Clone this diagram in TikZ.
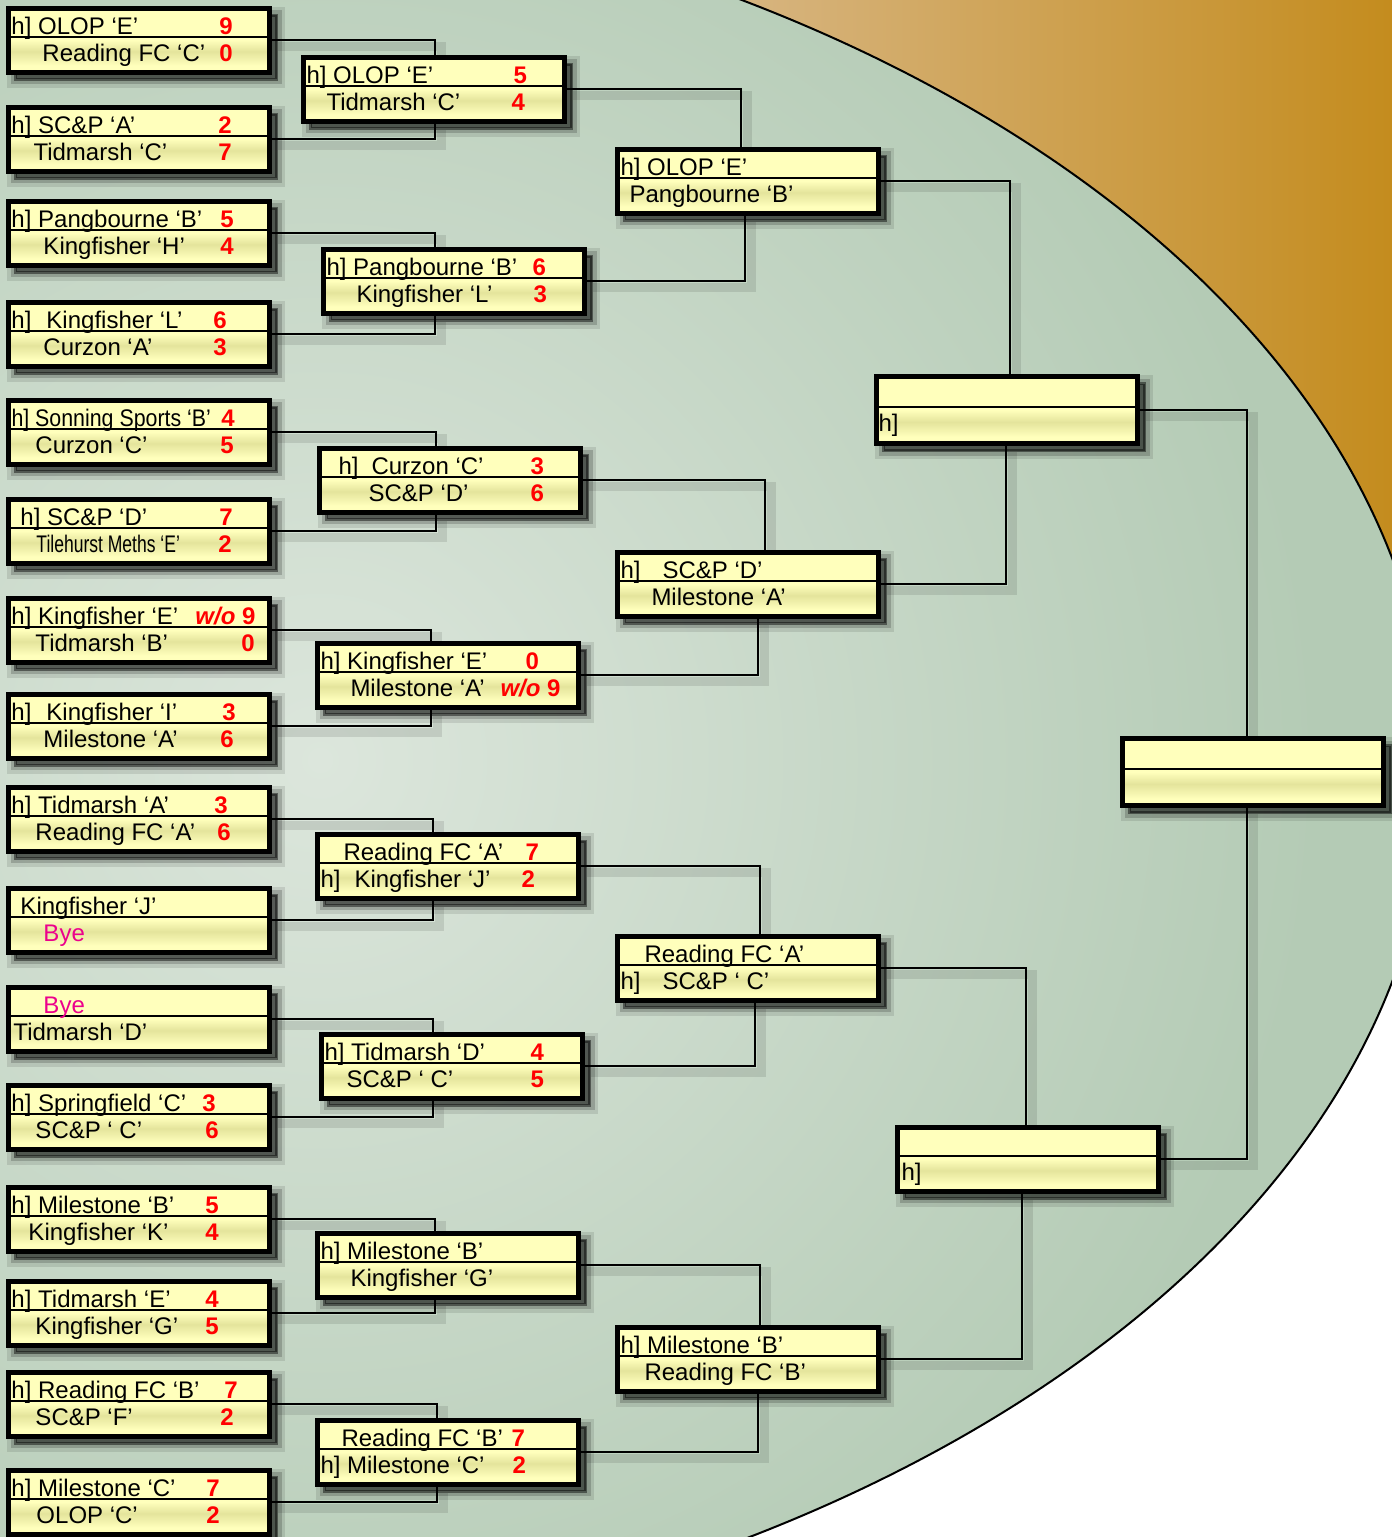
\documentclass[tikz,border=0pt]{standalone}
\usepackage{fontspec}
\setmainfont{Liberation Sans}

\definecolor{boxlite}{HTML}{FFFFBC}
\definecolor{boxdark}{HTML}{E4E49C}
\definecolor{ellouter}{HTML}{B4CBB5}
\definecolor{ellinner}{HTML}{DCE6DC}
\definecolor{tanleft}{HTML}{D8B786}
\definecolor{orangeright}{HTML}{C48C1E}

\pgfdeclareverticalshading{boxfill}{100bp}{color(0bp)=(boxlite); color(25bp)=(boxlite); color(30bp)=(boxlite); color(41bp)=(boxdark); color(50bp)=(boxlite); color(100bp)=(boxlite)}

\pgfdeclarelayer{bglayer}
\pgfdeclarelayer{linklayer}
\pgfsetlayers{bglayer,linklayer,main}

% one line of a match: indent, team, score position, score
\newcommand{\teamline}[4]{\makebox[261pt][l]{\rule[-5pt]{0pt}{25pt}\rlap{\hspace*{#1pt}#2}\hspace*{#3pt}\textcolor{red}{\bfseries #4}}}
\newcommand{\bye}{\textcolor{magenta}{Bye}}

\begin{document}
\begin{tikzpicture}[x=1pt, y=-1pt,
    matchbox/.style = {draw, line width=5pt, shading=boxfill,
        minimum width=261pt, minimum height=64pt, inner sep=0pt,
        align=left, font=\fontsize{24}{27}\selectfont,
        preaction={draw=black, opacity=0.10, line width=17pt,
            transform canvas={shift={(7pt,-7pt)}}},
        preaction={draw=black, opacity=0.18, line width=10pt,
            transform canvas={shift={(7pt,-7pt)}}},
        preaction={fill=black, draw=black, opacity=0.45, line width=3pt,
            transform canvas={shift={(7pt,-7pt)}}},
        path picture={\draw[line width=2pt]
            ([yshift=3pt]path picture bounding box.west) --
            ([yshift=3pt]path picture bounding box.east);}},
    bigbox/.style = {matchbox, minimum height=67pt},
    link/.style = {line width=2.5pt,
        preaction={draw=black, opacity=0.10, line width=9pt,
            transform canvas={shift={(6pt,-6pt)}}}}]
    \useasboundingbox (0,0) rectangle (1392,1537);

    % Background
    \begin{pgfonlayer}{bglayer}
        \shade[left color=tanleft, right color=orangeright] (700,0) rectangle (1392,800);
        \begin{scope}
            \clip (0,770) ellipse [x radius=1432, y radius=900];
            \fill[ellouter] (0,0) rectangle (1392,1537);
            \shade[inner color=ellinner, outer color=ellouter] (320,760) circle (1000);
        \end{scope}
        \draw[line width=2pt] (0,770) ellipse [x radius=1432, y radius=900];
    \end{pgfonlayer}

    % Round 1

    \node[matchbox] (r1a) at (139,40)   {\teamline{3}{h] OLOP ‘E’}{211}{9}\\\teamline{34}{Reading FC ‘C’}{211}{0}};
    \node[matchbox] (r1b) at (139,139)  {\teamline{3}{h] SC\&P ‘A’}{210}{2}\\\teamline{25}{Tidmarsh ‘C’}{210}{7}};
    \node[matchbox] (r1c) at (139,233)  {\teamline{3}{h] Pangbourne ‘B’}{212}{5}\\\teamline{35}{Kingfisher ‘H’}{212}{4}};
    \node[matchbox] (r1d) at (139,334)  {\teamline{3}{h]\hspace*{15pt}Kingfisher ‘L’}{205}{6}\\\teamline{35}{Curzon ‘A’}{205}{3}};
    \node[matchbox] (r1e) at (139,432)  {\teamline{3}{\scalebox{0.89}[1]{h] Sonning Sports ‘B’}}{213}{4}\\\teamline{27}{Curzon ‘C’}{212}{5}};
    \node[matchbox] (r1f) at (139,531)  {\teamline{12}{h] SC\&P ‘D’}{211}{7}\\\teamline{28}{\scalebox{0.73}[1]{Tilehurst Meths ‘E’}}{210}{2}};
    \node[matchbox] (r1g) at (139,630)  {\teamline{3}{h] Kingfisher ‘E’}{187}{\textit{w/o} 9}\\\teamline{27}{Tidmarsh ‘B’}{233}{0}};
    \node[matchbox] (r1h) at (139,726)  {\teamline{3}{h]\hspace*{15pt}Kingfisher ‘I’}{214}{3}\\\teamline{35}{Milestone ‘A’}{212}{6}};
    \node[matchbox] (r1i) at (139,819)  {\teamline{3}{h] Tidmarsh ‘A’}{206}{3}\\\teamline{27}{Reading FC ‘A’}{209}{6}};
    \node[matchbox] (r1j) at (139,920)  {\teamline{12}{Kingfisher ‘J’}{0}{}\\\teamline{35}{\bye}{0}{}};
    \node[matchbox] (r1k) at (139,1019) {\teamline{35}{\bye}{0}{}\\\teamline{5}{Tidmarsh ‘D’}{0}{}};
    \node[matchbox] (r1l) at (139,1117) {\teamline{3}{h] Springfield ‘C’}{194}{3}\\\teamline{27}{SC\&P ‘ C’}{197}{6}};
    \node[matchbox] (r1m) at (139,1219) {\teamline{3}{h] Milestone ‘B’}{197}{5}\\\teamline{20}{Kingfisher ‘K’}{197}{4}};
    \node[matchbox] (r1n) at (139,1313) {\teamline{3}{h] Tidmarsh ‘E’}{197}{4}\\\teamline{27}{Kingfisher ‘G’}{197}{5}};
    \node[matchbox] (r1o) at (139,1404) {\teamline{3}{h] Reading FC ‘B’}{216}{7}\\\teamline{27}{SC\&P ‘F’}{212}{2}};
    \node[matchbox] (r1p) at (139,1502) {\teamline{3}{h] Milestone ‘C’}{198}{7}\\\teamline{28}{OLOP ‘C’}{198}{2}};

    % Round 2

    \node[matchbox] (r2a) at (434,89)   {\teamline{3}{h] OLOP ‘E’}{210}{5}\\\teamline{23}{Tidmarsh ‘C’}{208}{4}};
    \node[matchbox] (r2b) at (454,281)  {\teamline{3}{h] Pangbourne ‘B’}{209}{6}\\\teamline{33}{Kingfisher ‘L’}{210}{3}};
    \node[matchbox] (r2c) at (450,480)  {\teamline{19}{h]\hspace*{13pt}Curzon ‘C’}{211}{3}\\\teamline{49}{SC\&P ‘D’}{211}{6}};
    \node[matchbox] (r2d) at (448,675)  {\teamline{3}{h] Kingfisher ‘E’}{208}{0}\\\teamline{33}{Milestone ‘A’}{183}{\textit{w/o} 9}};
    \node[matchbox] (r2e) at (448,866)  {\teamline{26}{Reading FC ‘A’}{208}{7}\\\teamline{3}{h]\hspace*{14pt}Kingfisher ‘J’}{204}{2}};
    \node[matchbox] (r2f) at (452,1066) {\teamline{3}{h] Tidmarsh ‘D’}{209}{4}\\\teamline{25}{SC\&P ‘ C’}{209}{5}};
    \node[matchbox] (r2g) at (448,1265) {\teamline{3}{h] Milestone ‘B’}{0}{}\\\teamline{33}{Kingfisher ‘G’}{0}{}};
    \node[matchbox] (r2h) at (448,1452) {\teamline{24}{Reading FC ‘B’}{194}{7}\\\teamline{3}{h] Milestone ‘C’}{195}{2}};

    % Round 3

    \node[matchbox] (r3a) at (748,181)  {\teamline{3}{h] OLOP ‘E’}{0}{}\\\teamline{12}{Pangbourne ‘B’}{0}{}};
    \node[matchbox] (r3b) at (748,584)  {\teamline{3}{h]\hspace*{22pt}SC\&P ‘D’}{0}{}\\\teamline{34}{Milestone ‘A’}{0}{}};
    \node[matchbox] (r3c) at (748,968)  {\teamline{27}{Reading FC ‘A’}{0}{}\\\teamline{3}{h]\hspace*{22pt}SC\&P ‘ C’}{0}{}};
    \node[matchbox] (r3d) at (748,1359) {\teamline{3}{h] Milestone ‘B’}{0}{}\\\teamline{27}{Reading FC ‘B’}{0}{}};

    % Semi finals and final

    \node[bigbox] (r4a) at (1007,410)     {\teamline{0}{}{0}{}\\\teamline{2}{h]}{0}{}};
    \node[matchbox] (r4b) at (1028,1159)  {\teamline{0}{}{0}{}\\\teamline{4}{h]}{0}{}};
    \node[bigbox] (final) at (1253,772)   {\teamline{0}{}{0}{}\\\teamline{0}{}{0}{}};

    % Connectors
    \begin{pgfonlayer}{linklayer}
        \draw[link] (r1a.east) -| ([xshift=1pt]r2a.north);
        \draw[link] (r1b.east) -| ([xshift=1pt]r2a.south);
        \draw[link] (r1c.east) -| ([xshift=-19pt]r2b.north);
        \draw[link] (r1d.east) -| ([xshift=-19pt]r2b.south);
        \draw[link] (r1e.east) -| ([xshift=-14pt]r2c.north);
        \draw[link] (r1f.east) -| ([xshift=-14pt]r2c.south);
        \draw[link] (r1g.east) -| ([xshift=-17pt]r2d.north);
        \draw[link] (r1h.east) -| ([xshift=-17pt]r2d.south);
        \draw[link] (r1i.east) -| ([xshift=-15pt]r2e.north);
        \draw[link] (r1j.east) -| ([xshift=-15pt]r2e.south);
        \draw[link] (r1k.east) -| ([xshift=-19pt]r2f.north);
        \draw[link] (r1l.east) -| ([xshift=-19pt]r2f.south);
        \draw[link] (r1m.east) -| ([xshift=-13pt]r2g.north);
        \draw[link] (r1n.east) -| ([xshift=-13pt]r2g.south);
        \draw[link] (r1o.east) -| ([xshift=-11pt]r2h.north);
        \draw[link] (r1p.east) -| ([xshift=-11pt]r2h.south);

        \draw[link] (r2a.east) -| ([xshift=-7pt]r3a.north);
        \draw[link] (r2b.east) -| ([xshift=-3pt]r3a.south);
        \draw[link] (r2c.east) -| ([xshift=17pt]r3b.north);
        \draw[link] (r2d.east) -| ([xshift=10pt]r3b.south);
        \draw[link] (r2e.east) -| ([xshift=12pt]r3c.north);
        \draw[link] (r2f.east) -| ([xshift=7pt]r3c.south);
        \draw[link] (r2g.east) -| ([xshift=12pt]r3d.north);
        \draw[link] (r2h.east) -| ([xshift=10pt]r3d.south);

        \draw[link] (r3a.east) -| ([xshift=3pt]r4a.north);
        \draw[link] (r3b.east) -| ([xshift=-1pt]r4a.south);
        \draw[link] (r3c.east) -| ([xshift=-2pt]r4b.north);
        \draw[link] (r3d.east) -| ([xshift=-6pt]r4b.south);

        \draw[link] (r4a.east) -| ([xshift=-6pt]final.north);
        \draw[link] (r4b.east) -| ([xshift=-6pt]final.south);
    \end{pgfonlayer}
\end{tikzpicture}
\end{document}
